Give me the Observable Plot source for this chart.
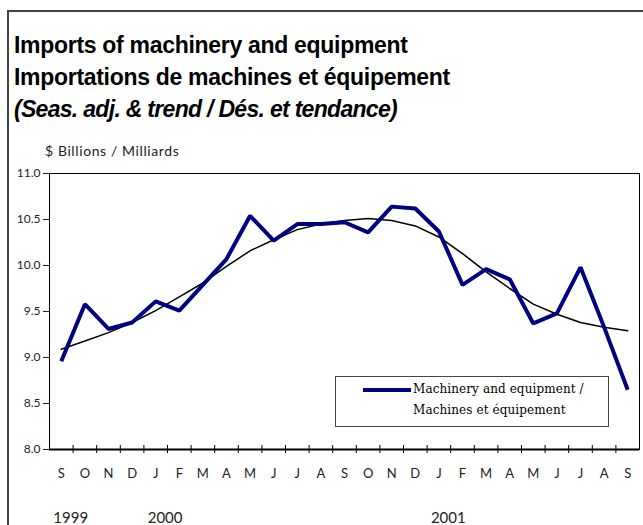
<!DOCTYPE html>
<html><head><meta charset="utf-8">
<script src="https://cdn.jsdelivr.net/npm/d3@7"></script>
<script src="https://cdn.jsdelivr.net/npm/@observablehq/plot@0.6"></script>
<style>
body{margin:0;background:#fff;width:643px;height:525px;overflow:hidden;position:relative;}
#frame{position:absolute;left:7px;top:10px;width:700px;height:600px;border-left:2px solid #444;border-top:2px solid #444;}
.t{position:absolute;left:14px;font-family:"Liberation Sans",Arial,sans-serif;font-weight:bold;font-size:23px;letter-spacing:-0.3px;color:#000;white-space:nowrap;line-height:23px;}
#chart{position:absolute;left:0;top:140px;}
#unit{position:absolute;left:45px;top:143px;font-family:Lato,sans-serif;font-size:14px;letter-spacing:0.6px;color:#222;white-space:nowrap;line-height:16px;}
#legend{position:absolute;left:335px;top:376px;width:272px;height:49px;border:1px solid #444;background:#fff;font-family:"DejaVu Serif",serif;font-size:12px;letter-spacing:0.1px;color:#000;}
#legend svg{position:absolute;left:27px;top:9px;}
#legend .l1{position:absolute;left:77px;top:5px;white-space:nowrap;}
#legend .l2{position:absolute;left:77px;top:26px;white-space:nowrap;}
</style></head>
<body>
<div id="frame"></div>
<div class="t" style="top:34px">Imports of machinery and equipment</div>
<div class="t" style="top:66px">Importations de machines et équipement</div>
<div class="t" style="top:98px;font-style:italic;letter-spacing:-0.7px">(Seas. adj. &amp; trend / Dés. et tendance)</div>
<div id="chart"></div>
<div id="unit">$ Billions / Milliards</div>
<div id="legend">
  <svg width="48" height="8"><line x1="0" y1="4" x2="48" y2="4" stroke="#000080" stroke-width="4"/></svg>
  <div class="l1">Machinery and equipment /</div>
  <div class="l2">Machines et équipement</div>
</div>
<script>
const months = ["S","O","N","D","J","F","M","A","M","J","J","A","S","O","N","D","J","F","M","A","M","J","J","A","S"];
const seasAdj = [8.96, 9.58, 9.31, 9.38, 9.61, 9.51, 9.79, 10.07, 10.54, 10.27, 10.45, 10.45, 10.47, 10.36, 10.64, 10.62, 10.37, 9.79, 9.96, 9.85, 9.37, 9.48, 9.98, 9.33, 8.65];
const trend = [9.09, 9.18, 9.27, 9.38, 9.51, 9.66, 9.81, 9.99, 10.16, 10.28, 10.39, 10.45, 10.49, 10.51, 10.49, 10.43, 10.31, 10.13, 9.93, 9.75, 9.58, 9.47, 9.38, 9.33, 9.29];
const yearLabels = ["1999", "2000", "2001"];
const yearMonthIndex = [0, 4, 16];
const yTicks = [8, 8.5, 9, 9.5, 10, 10.5, 11];

const boundaries = months.slice(1).map((_, i) => i + 0.5);

const plot = Plot.plot({
  width: 643, height: 385,
  marginLeft: 49, marginRight: 4, marginTop: 33, marginBottom: 76,
  x: {domain: [-0.5, months.length - 0.5], axis: null},
  y: {domain: [8, 11], ticks: yTicks, tickFormat: d3.format(".1f"), tickSize: 6, tickPadding: 3, label: null},
  style: {fontFamily: "Lato, sans-serif", fontSize: "12px", color: "#222", background: "transparent"},
  marks: [
    Plot.frame({stroke: "#000", strokeWidth: 1}),
    Plot.ruleY([8], {stroke: "#000", strokeWidth: 2}),
    Plot.ruleX(boundaries, {x: d => d, y1: 8, y2: 8, insetTop: -4, insetBottom: -4, stroke: "#000"}),
    Plot.line(trend, {x: (d, i) => i, y: d => d, stroke: "#000", strokeWidth: 1.5}),
    Plot.line(seasAdj, {x: (d, i) => i, y: d => d, stroke: "#000080", strokeWidth: 4, strokeLinejoin: "miter", strokeLinecap: "butt"}),
    Plot.text(months, {x: (d, i) => i, y: () => 8, text: d => d, dy: 24, fontSize: 13, fill: "#222"}),
    Plot.text(yearLabels, {x: (d, i) => yearMonthIndex[i], y: () => 8, text: d => d, dy: 69, dx: -8, textAnchor: "start", fontSize: 15, fill: "#222"})
  ]
});
document.getElementById("chart").appendChild(plot);
</script>
</body></html>
